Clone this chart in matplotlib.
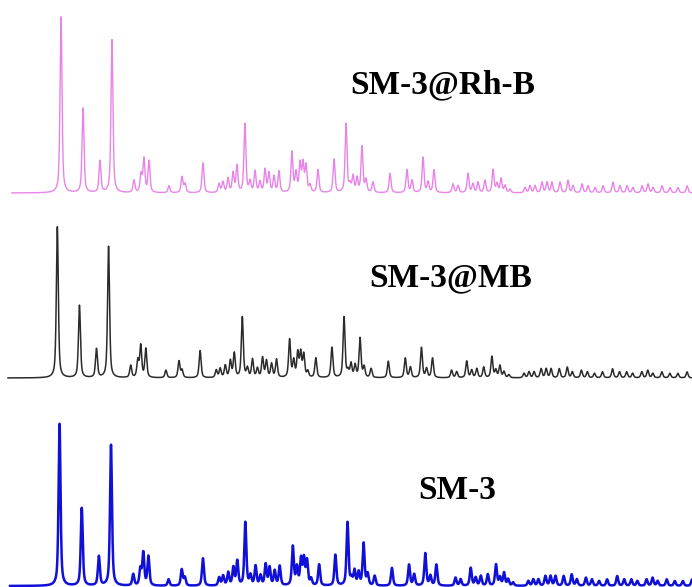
# stacked powder XRD patterns: SM-3, SM-3@MB, SM-3@Rh-B
import numpy as np
import matplotlib.pyplot as plt

# peak positions (2 theta, degrees) shared by the three samples
peak_pos = [6.39, 7.91, 9.08, 9.91, 11.43, 11.92, 12.12, 12.47, 13.85, 14.75,
            14.96, 16.20, 17.31, 17.58, 17.93, 18.28, 18.55, 19.10, 19.45, 19.80,
            20.14, 20.49, 20.76, 21.11, 21.45, 22.35, 22.63, 22.91, 23.11, 23.32,
            23.60, 24.15, 25.26, 26.09, 26.36, 26.57, 26.85, 27.19, 27.47, 27.95,
            29.13, 30.30, 30.65, 31.41, 31.76, 32.17, 33.48, 33.83, 34.52, 34.86,
            35.21, 35.69, 36.25, 36.52, 36.80, 37.08, 37.42, 38.46, 38.80, 39.15,
            39.63, 39.98, 40.32, 40.88, 41.43, 41.78, 42.40, 42.81, 43.30, 43.85,
            44.54, 45.02, 45.51, 45.92, 46.55, 46.96, 47.31, 47.93, 48.48, 49.03,
            49.66]

# relative intensities (%)
int_rhb = [100, 48, 18, 87, 7, 10, 19, 18, 4, 9,
           5, 17, 5, 6, 8, 11, 15, 39, 6, 12,
           6, 13, 11, 9, 12, 23, 11, 16, 16, 15,
           4, 13, 19, 39, 4, 9, 8, 26, 7, 6,
           11, 13, 7, 20, 6, 13, 5, 4, 11, 5,
           6, 7, 13, 5, 8, 4, 2, 3, 4, 4,
           6, 6, 6, 6, 7, 4, 5, 4, 3, 4,
           6, 4, 4, 3, 4, 5, 3, 4, 3, 3,
           4]
int_mb = [100, 48, 19, 87, 8, 11, 21, 19, 5, 11,
          5, 18, 5, 6, 8, 11, 16, 40, 6, 12,
          6, 13, 11, 9, 12, 25, 11, 16, 16, 15,
          4, 13, 20, 40, 4, 9, 8, 26, 7, 6,
          11, 13, 7, 20, 6, 13, 5, 4, 11, 5,
          6, 7, 14, 5, 8, 4, 2, 3, 4, 4,
          6, 6, 6, 6, 7, 4, 5, 4, 3, 4,
          6, 4, 4, 3, 4, 5, 3, 4, 3, 3,
          4]
int_sm3 = [100, 48, 18, 87, 7, 10, 20, 18, 4, 10,
           5, 17, 5, 6, 8, 11, 15, 39, 6, 12,
           6, 13, 11, 9, 12, 24, 11, 16, 16, 15,
           4, 13, 19, 39, 4, 9, 8, 26, 7, 6,
           11, 13, 7, 20, 6, 13, 5, 4, 11, 5,
           6, 7, 13, 5, 8, 4, 2, 3, 4, 4,
           6, 6, 6, 6, 7, 4, 5, 4, 3, 4,
           6, 4, 4, 3, 4, 5, 3, 4, 3, 3,
           4]

labels = ['SM-3@Rh-B', 'SM-3@MB', 'SM-3']

W, H = 692, 587


def pattern(x, pos, inten, fwhm=0.16, eta=0.6):
    y = np.zeros_like(x)
    for p, h in zip(pos, inten):
        d = (x - p) / (fwhm / 2)
        y += h * (eta / (1 + d ** 2) + (1 - eta) * np.exp(-np.log(2) * d ** 2))
    return y


def main():
    fig = plt.figure(figsize=(W / 100, H / 100), dpi=100)
    x = np.linspace(3, 50, 8000)

    # (left px, right px, baseline px, peak height px, colour, lw, label pos)
    traces = [
        (int_rhb, 12, 692, 193, 176, '#e884e8', 1.0, (350, 93)),
        (int_mb, 8, 692, 378, 151, '#2b2b2b', 1.1, (369, 286)),
        (int_sm3, 10, 697, 586, 162, '#1010d8', 1.8, (418, 499)),
    ]

    for (inten, left, right, base, hgt, col, lw, lab), name in zip(traces, labels):
        ax = fig.add_axes([left / W, (H - base) / H, (right - left) / W, hgt / H])
        ax.plot(x, pattern(x, peak_pos, inten), color=col, lw=lw, clip_on=False)
        ax.set_xlim(3, 50)
        ax.set_ylim(0, 100)
        ax.axis('off')
        fig.text(lab[0] / W, 1 - lab[1] / H, name, fontsize=24, fontweight='bold',
                 family='Liberation Serif', va='baseline', ha='left')

    fig.savefig('out.png', dpi=100)


if __name__ == "__main__":
    main()
